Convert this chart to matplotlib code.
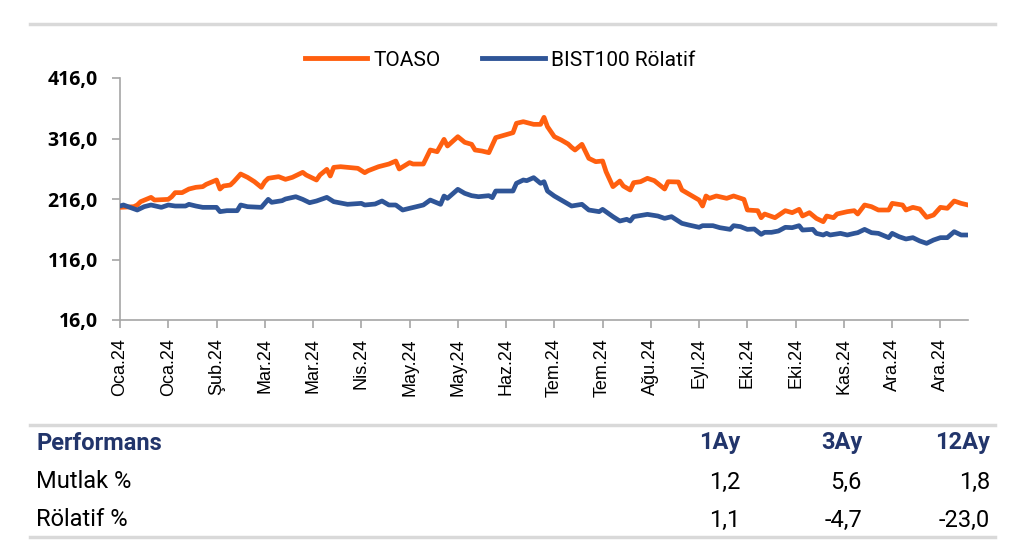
import matplotlib.pyplot as plt
from matplotlib.lines import Line2D

# TOASO (trading-day index, value)
toaso_day = [0, 4, 5, 6, 9, 10, 14, 15, 16, 18, 20, 22, 24, 25, 28, 29, 30, 32, 33, 35,
             37, 39, 41, 42, 43, 46, 48, 50, 53, 54, 57, 58, 60, 61, 62, 64, 69, 71, 72, 75,
             78, 80, 81, 84, 85, 88, 90, 92, 94, 95, 98, 100, 102, 103, 105, 107, 109, 114, 115, 117,
             120, 122, 123, 124, 126, 128, 130, 131, 132, 134, 136, 138, 140, 141, 143, 145, 146, 148, 149, 151,
             153, 155, 158, 159, 162, 163, 166, 168, 169, 170, 171, 173, 176, 178, 181, 182, 185, 186, 187, 190,
             193, 195, 197, 198, 200, 202, 204, 205, 207, 208, 211, 213, 214, 216, 218, 220, 223, 224, 227, 228,
             230, 232, 234, 236, 238, 240, 242, 244, 246]
toaso_val = [202.2, 203.3, 206.1, 211.6, 218.7, 214.3, 215.4, 219.8, 226.5, 226.5, 232.5, 235.3, 236.4, 240.2, 247.4, 232.5, 237.5, 239.1, 244.6, 257.3,
             251.8, 244.6, 235.3, 244.6, 250.2, 252.9, 248.5, 251.8, 260.1, 255.7, 247.4, 255.7, 265.0, 254.0, 268.3, 269.4, 266.7, 259.5, 262.8, 269.4,
             273.8, 278.8, 265.6, 276.1, 273.8, 273.8, 297.0, 294.2, 314.6, 303.6, 319.0, 309.7, 306.4, 297.0, 295.3, 292.6, 317.4, 325.6, 341.1, 343.8,
             339.4, 339.4, 351.0, 335.6, 319.0, 313.5, 306.9, 301.4, 297.0, 306.4, 283.2, 277.7, 278.8, 261.2, 236.4, 245.7, 237.5, 230.9, 243.0, 244.6,
             250.2, 246.3, 232.5, 244.6, 244.1, 230.9, 221.0, 214.3, 204.4, 221.0, 217.1, 221.0, 217.1, 221.0, 215.4, 197.8, 196.7, 185.1, 191.2, 185.1,
             196.7, 193.4, 198.9, 187.9, 193.4, 184.0, 178.5, 187.9, 185.1, 191.2, 195.1, 196.7, 191.2, 206.1, 203.3, 197.8, 197.8, 208.8, 206.1, 197.8,
             202.2, 199.5, 185.7, 189.5, 202.2, 200.6, 212.7, 208.8, 206.1]

# BIST100 relative (trading-day index, value)
bist_day = [0, 1, 5, 7, 9, 12, 14, 16, 19, 20, 22, 24, 28, 29, 31, 34, 35, 37, 41, 43,
            44, 47, 48, 51, 53, 55, 57, 60, 62, 66, 70, 71, 74, 76, 78, 80, 82, 84, 86, 88,
            90, 93, 94, 95, 98, 100, 102, 104, 107, 108, 109, 114, 115, 117, 118, 120, 122, 123, 124, 126,
            128, 131, 134, 136, 139, 140, 143, 145, 147, 148, 149, 153, 156, 158, 160, 163, 165, 168, 169, 172,
            174, 177, 178, 180, 182, 184, 186, 187, 189, 191, 193, 195, 197, 198, 201, 202, 204, 205, 206, 209,
            211, 213, 214, 216, 218, 220, 223, 224, 226, 228, 230, 232, 234, 236, 238, 240, 242, 244, 246]
bist_val = [204.4, 206.1, 197.8, 203.3, 206.1, 202.2, 206.1, 204.4, 204.4, 207.2, 204.4, 202.2, 202.2, 195.1, 196.7, 196.7, 206.1, 203.3, 202.2, 215.4,
            210.5, 213.2, 216.0, 219.8, 215.4, 209.9, 212.7, 218.7, 211.6, 207.2, 208.8, 206.1, 207.7, 212.7, 206.1, 206.1, 197.8, 200.6, 203.3, 206.1,
            214.3, 207.2, 220.9, 217.1, 232.0, 225.4, 221.5, 219.8, 221.5, 218.2, 229.2, 229.2, 241.9, 247.4, 246.3, 251.3, 241.9, 244.6, 229.2, 220.9,
            214.3, 204.4, 207.2, 197.8, 195.1, 198.9, 186.8, 179.6, 182.4, 179.6, 186.8, 190.6, 187.9, 184.0, 186.8, 175.8, 173.0, 169.2, 171.9, 171.9,
            168.6, 165.8, 171.9, 170.3, 165.8, 166.4, 157.6, 160.9, 160.9, 163.1, 169.2, 168.6, 171.9, 164.7, 165.8, 159.2, 156.5, 159.2, 156.5, 159.2,
            156.5, 159.2, 160.3, 165.8, 160.3, 159.2, 152.1, 159.2, 153.7, 149.9, 152.1, 146.6, 142.7, 148.2, 152.1, 152.1, 162.0, 156.5, 156.5]

tick_labels = ['Oca.24', 'Oca.24', 'Şub.24', 'Mar.24', 'Mar.24', 'Nis.24', 'May.24', 'May.24', 'Haz.24',
               'Tem.24', 'Tem.24', 'Ağu.24', 'Eyl.24', 'Eki.24', 'Eki.24', 'Kas.24', 'Ara.24', 'Ara.24']
y_ticks = [16, 116, 216, 316, 416]

perf_cols = ['1Ay', '3Ay', '12Ay']
mutlak = ['1,2', '5,6', '1,8']
rolatif = ['1,1', '-4,7', '-23,0']

orange = '#ff5f0f'
blue = '#2f5597'
navy = '#22356b'

plt.rcParams['font.family'] = ['Roboto', 'DejaVu Sans']

W, H = 1024, 556
fig = plt.figure(figsize=(W / 100, H / 100), dpi=100)


def fx(px):
    return px / W


def fy(py):
    return 1 - py / H


ax = fig.add_axes([fx(120), fy(320), fx(968 - 120), (320 - 78) / H])
ax.plot(toaso_day, toaso_val, color=orange, lw=3.4, solid_joinstyle='round', zorder=3)
ax.plot(bist_day, bist_val, color=blue, lw=3.4, solid_joinstyle='round', zorder=3)

ax.set_xlim(0, 246)
ax.set_ylim(16, 416)
ax.set_yticks(y_ticks)
ax.set_yticklabels([f'{v},0' for v in y_ticks], fontsize=14, fontweight='bold',
                   family=['Open Sans', 'DejaVu Sans'])
ax.set_xticks(range(0, 14 * len(tick_labels), 14))
ax.set_xticklabels(tick_labels, rotation=90, fontsize=13,
                   family=['Liberation Sans', 'DejaVu Sans'])

for s in ['top', 'right']:
    ax.spines[s].set_visible(False)
for s in ['left', 'bottom']:
    ax.spines[s].set_color('#a6a6a6')
    ax.spines[s].set_linewidth(1.2)
ax.tick_params(axis='both', direction='out', length=6, width=1.2, color='#a6a6a6',
               labelcolor='black')
ax.tick_params(axis='y', pad=10)
ax.tick_params(axis='x', pad=7)

# legend
handles = [Line2D([0], [0], color=orange, lw=3.5), Line2D([0], [0], color=blue, lw=3.5)]
fig.legend(handles, ['TOASO', 'BIST100 Rölatif'], loc='center', bbox_to_anchor=(fx(500), fy(60)),
           ncol=2, frameon=False, fontsize=15, handlelength=3.0, handletextpad=0.3,
           columnspacing=2.0)

# separator lines
for py in [24, 425, 537]:
    fig.add_artist(Line2D([fx(30), fx(995)], [fy(py), fy(py)], color='#d9d9d9', lw=2.5))

# performance table
fs = 17
fig.text(fx(36), fy(443), 'Performans', fontsize=fs, fontweight='bold', color=navy,
         ha='left', va='center')
fig.text(fx(36), fy(482), 'Mutlak %', fontsize=fs, color='black', ha='left', va='center')
fig.text(fx(36), fy(520), 'Rölatif %', fontsize=fs, color='black', ha='left', va='center')
col_x = [740, 862, 990]
for i, cx in enumerate(col_x):
    fig.text(fx(cx), fy(443), perf_cols[i], fontsize=fs, fontweight='bold', color=navy,
             ha='right', va='center')
    fig.text(fx(cx), fy(482), mutlak[i], fontsize=fs, color='black', ha='right', va='center')
    fig.text(fx(cx), fy(520), rolatif[i], fontsize=fs, color='black', ha='right', va='center')

fig.savefig('out.png', dpi=100)
